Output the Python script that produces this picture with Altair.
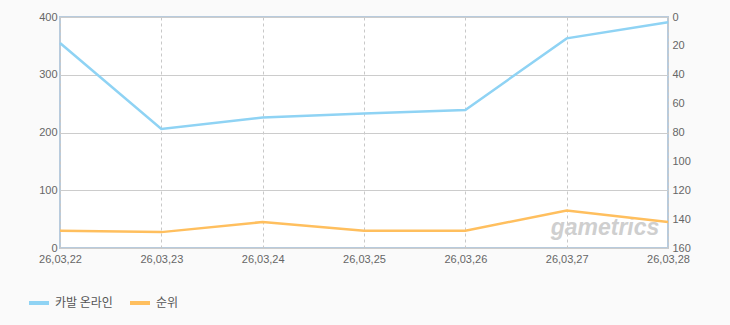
import altair as alt
import pandas as pd

dates = ["26,03,22", "26,03,23", "26,03,24", "26,03,25", "26,03,26", "26,03,27", "26,03,28"]
players = [355, 206, 226, 233, 239, 363, 391]
ranks = [148, 149, 142, 148, 148, 134, 142]
series_names = ["카발 온라인", "순위"]
series_colors = ["#8fd3f4", "#ffbf5e"]
left_ticks = [0, 100, 200, 300, 400]
right_ticks = [0, 20, 40, 60, 80, 100, 120, 140, 160]

df = pd.DataFrame({"date": dates, "players": players, "rank": ranks})

FONT = "Liberation Sans"
KFONT = "Noto Sans CJK KR"
LABEL_COLOR = "#666666"

color_scale = alt.Scale(domain=series_names, range=series_colors)
legend = alt.Legend(
    orient="none", legendX=-33, legendY=274, direction="horizontal", title=None,
    symbolType="stroke", symbolSize=400, symbolStrokeWidth=4,
    labelFontSize=12, labelFont=KFONT, labelColor="#555555",
    columnPadding=9, labelOffset=4,
)

x_enc = alt.X(
    "date:O", sort=dates,
    scale=alt.Scale(type="point", padding=0),
    axis=alt.Axis(
        title=None, labelAngle=0, grid=True, gridDash=[3, 3], gridColor="#c8c8c8",
        ticks=False, domain=False, labelPadding=5, labelColor=LABEL_COLOR,
        labelFontSize=11, labelFont=FONT,
    ),
)

watermark = alt.Chart(pd.DataFrame({"t": ["gametrics"]})).mark_text(
    font=FONT, fontSize=23, fontStyle="italic", fontWeight="bold",
    color="#cfcfcf", align="center", baseline="middle",
).encode(text="t:N", x=alt.value(545), y=alt.value(211))

blue = alt.Chart(df).transform_calculate(series=f"'{series_names[0]}'").mark_line(strokeWidth=2.5).encode(
    x=x_enc,
    y=alt.Y(
        "players:Q",
        scale=alt.Scale(domain=[0, 400], nice=False, zero=True),
        axis=alt.Axis(
            orient="left", values=left_ticks, title=None, grid=True, gridColor="#cccccc",
            ticks=False, domain=False, labelPadding=3, labelColor=LABEL_COLOR,
            labelFontSize=11, labelFont=FONT, labelFlush=False, labelOverlap=False,
        ),
    ),
    color=alt.Color("series:N", scale=color_scale, legend=legend),
)

orange = alt.Chart(df).transform_calculate(series=f"'{series_names[1]}'").mark_line(strokeWidth=2.5).encode(
    x=x_enc,
    y=alt.Y(
        "rank:Q",
        scale=alt.Scale(domain=[0, 160], nice=False, reverse=True),
        axis=alt.Axis(
            orient="right", values=right_ticks, title=None, grid=False,
            ticks=False, domain=False, labelPadding=4, labelColor=LABEL_COLOR,
            labelFontSize=11, labelFont=FONT, labelFlush=False, labelOverlap=False,
        ),
    ),
    color=alt.Color("series:N", scale=color_scale, legend=legend),
)

chart = alt.layer(watermark, blue, orange).resolve_scale(y="independent").properties(
    width=608, height=231,
    padding={"left": 60, "top": 17, "right": 62, "bottom": 77},
    autosize="none",
    background="#fafafa",
).configure_view(fill="white", stroke="#b8cbdd", strokeWidth=2)

chart.save("out.html", embed_options={"renderer": "svg", "actions": False})
